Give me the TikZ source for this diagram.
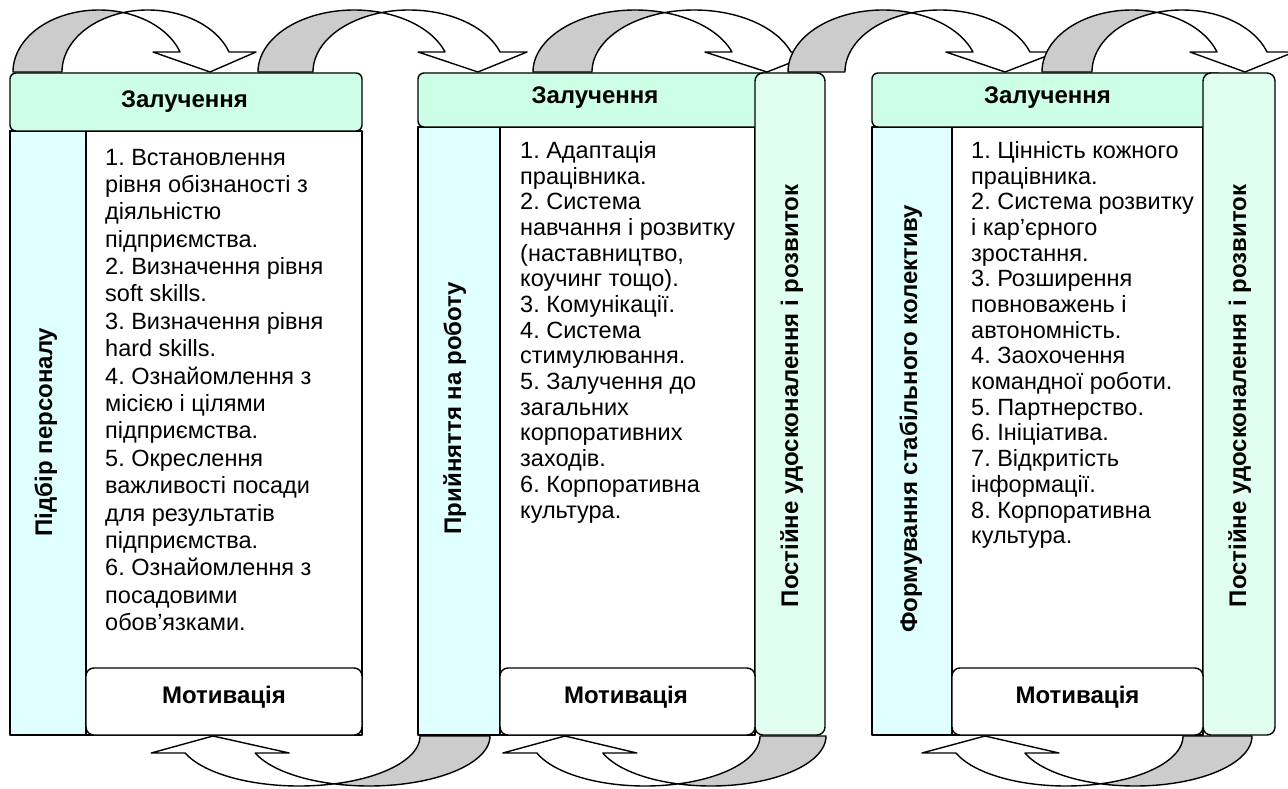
\documentclass[tikz,border=0pt]{standalone}
\usepackage{fontspec}
\setmainfont{Liberation Sans}
\frenchspacing
\definecolor{hdrfill}{RGB}{204,255,230}
\definecolor{rbandfill}{RGB}{224,255,240}
\definecolor{lbandfill}{RGB}{224,255,255}
\definecolor{backgray}{RGB}{204,204,204}
\tikzset{
  outline/.style={draw=black, line width=1.4pt, line join=round},
  hdrbox/.style={outline, fill=hdrfill, rounded corners=6pt, rectangle, inner sep=0pt},
  lbandbox/.style={outline, fill=lbandfill, rectangle, inner sep=0pt},
  rbandbox/.style={outline, fill=rbandfill, rounded corners=8pt, rectangle, inner sep=0pt},
  contentbox/.style={outline, fill=white, rectangle, inner sep=0pt},
  motbox/.style={outline, fill=white, rounded corners=8pt, rectangle, inner sep=0pt},
  arrback/.style={outline, fill=backgray},
  arrfront/.style={outline, fill=white},
  boldlabel/.style={font=\fontsize{24}{28}\selectfont\bfseries, inner sep=0pt, anchor=base},
  sidelabel/.style={boldlabel, rotate=90},
  bodylabel/.style={inner sep=0pt, anchor=base west},
}
\newcommand{\BodyText}[2]{\parbox[t]{300pt}{\fontsize{23.5}{#1}\selectfont\frenchspacing\raggedright #2}}
\newcommand{\TopArrow}[4]{%
  \pgfmathsetmacro{\TAc}{acos(#3/(2*#2))}%
  \pgfmathsetmacro{\TAone}{360-\TAc}%
  \pgfmathsetmacro{\TAtwo}{180+\TAc}%
  \pgfmathsetmacro{\TAb}{360-asin(20/62)}%
  \pgfmathsetmacro{\TAcx}{#1+#3}%
  \pgfmathsetmacro{\TAin}{#1+#2*cos(\TAb)}%
  \pgfmathsetmacro{\TAout}{\TAcx+#2*cos(\TAb)}%
  \filldraw[arrback] plot[domain=180:\TAone,samples=50] ({#1+#2*cos(\x)},{72+62*sin(\x)})
     -- plot[domain=\TAtwo:180,samples=50] ({\TAcx+#2*cos(\x)},{72+62*sin(\x)}) -- cycle;
  \filldraw[arrfront] plot[domain=\TAtwo:\TAb,samples=50] ({\TAcx+#2*cos(\x)},{72+62*sin(\x)})
     -- (\TAout+27,52) -- (#4,72) -- (\TAin-27,52)
     -- plot[domain=\TAb:\TAone,samples=50] ({#1+#2*cos(\x)},{72+62*sin(\x)}) -- cycle;
}
\newcommand{\BotArrow}[4]{%
  \pgfmathsetmacro{\BAa}{acos(-#3/(2*#2))}%
  \pgfmathsetmacro{\BAb}{acos(#3/(2*#2))}%
  \pgfmathsetmacro{\BAh}{180-asin(17/50)}%
  \pgfmathsetmacro{\BAcx}{#1-#3}%
  \pgfmathsetmacro{\BAl}{\BAcx+#2*cos(\BAh)}%
  \pgfmathsetmacro{\BAr}{#1+#2*cos(\BAh)}%
  \filldraw[arrback] plot[domain=0:\BAa,samples=50] ({#1+#2*cos(\x)},{736+50*sin(\x)})
     -- plot[domain=\BAb:0,samples=50] ({\BAcx+#2*cos(\x)},{736+50*sin(\x)}) -- cycle;
  \filldraw[arrfront] plot[domain=\BAb:\BAh,samples=50] ({\BAcx+#2*cos(\x)},{736+50*sin(\x)})
     -- (\BAl-34,753) -- (#4,736) -- (\BAr+34,753)
     -- plot[domain=\BAh:\BAa,samples=50] ({#1+#2*cos(\x)},{736+50*sin(\x)}) -- cycle;
}
\begin{document}
\begin{tikzpicture}[x=1pt,y=-1pt]
\useasboundingbox (0,0) rectangle (1288,789);
\fill[white] (0,0) rectangle (1288,789);
% curved arrows on top
\TopArrow{98.8}{85.8}{49}{210}
\TopArrow{354.1}{96.1}{55}{478}
\TopArrow{635.2}{102.2}{59}{767}
\TopArrow{883}{95}{57}{1005}
\TopArrow{1131.9}{89.9}{50}{1245}
% curved arrows at bottom
\BotArrow{369}{121}{70}{213}
\BotArrow{711}{115}{66}{565}
\BotArrow{1135}{117}{69}{985}
% column 1
\node[contentbox, minimum width=276pt, minimum height=604pt] (c1) at (224,433) {};
\node[lbandbox, minimum width=76pt, minimum height=604pt] (l1) at (48,433) {};
\node[hdrbox, minimum width=352pt, minimum height=58pt] (h1) at (186,102) {};
\node[motbox, minimum width=276pt, minimum height=67pt] (m1) at (224,701.5) {};
\node[boldlabel] (h1t) at (184.5,108) {Залучення};
\node[boldlabel] (m1t) at (224,703) {Мотивація};
\node[sidelabel] (l1t) at (52,432) {Підбір персоналу};
\node[bodylabel] (b1) at (105,165) {\BodyText{27.4}{1. Встановлення\\
рівня обізнаності з\\
діяльністю\\
підприємства.\\
2. Визначення рівня\\
soft skills.\\
3. Визначення рівня\\
hard skills.\\
4. Ознайомлення з\\
місією і цілями\\
підприємства.\\
5. Окреслення\\
важливості посади\\
для результатів\\
підприємства.\\
6. Ознайомлення з\\
посадовими\\
обов’язками.}};
% column 2
\node[contentbox, minimum width=255pt, minimum height=608pt] (c2) at (627.5,431) {};
\node[lbandbox, minimum width=82pt, minimum height=608pt] (l2) at (459,431) {};
\node[hdrbox, minimum width=354pt, minimum height=54pt] (h2) at (595,100) {};
\node[rbandbox, minimum width=70pt, minimum height=662pt] (r2) at (790,404) {};
\node[motbox, minimum width=255pt, minimum height=67pt] (m2) at (627.5,701.5) {};
\node[boldlabel] (h2t) at (595,104) {Залучення};
\node[boldlabel] (m2t) at (626,703) {Мотивація};
\node[sidelabel] (l2t) at (461,408) {Прийняття на роботу};
\node[sidelabel] (r2t) at (798,396) {Постійне удосконалення і розвиток};
\node[bodylabel] (b2) at (520,158.3) {\BodyText{25.7}{1. Адаптація\\
працівника.\\
2. Система\\
навчання і розвитку\\
(наставництво,\\
коучинг тощо).\\
3. Комунікації.\\
4. Система\\
стимулювання.\\
5. Залучення до\\
загальних\\
корпоративних\\
заходів.\\
6. Корпоративна\\
культура.}};
% column 3
\node[contentbox, minimum width=251pt, minimum height=608pt] (c3) at (1077.5,431) {};
\node[lbandbox, minimum width=80pt, minimum height=608pt] (l3) at (912,431) {};
\node[hdrbox, minimum width=351pt, minimum height=54pt] (h3) at (1047.5,100) {};
\node[rbandbox, minimum width=72pt, minimum height=662pt] (r3) at (1239,404) {};
\node[motbox, minimum width=251pt, minimum height=67pt] (m3) at (1077.5,701.5) {};
\node[boldlabel] (h3t) at (1047.5,104) {Залучення};
\node[boldlabel] (m3t) at (1077.5,703) {Мотивація};
\node[sidelabel] (l3t) at (917,419) {Формування стабільного колективу};
\node[sidelabel] (r3t) at (1246,396) {Постійне удосконалення і розвиток};
\node[bodylabel] (b3) at (971,158.3) {\BodyText{25.7}{1. Цінність кожного\\
працівника.\\
2. Система розвитку\\
і кар’єрного\\
зростання.\\
3. Розширення\\
повноважень і\\
автономність.\\
4. Заохочення\\
командної роботи.\\
5. Партнерство.\\
6. Ініціатива.\\
7. Відкритість\\
інформації.\\
8. Корпоративна\\
культура.}};
\end{tikzpicture}
\end{document}
